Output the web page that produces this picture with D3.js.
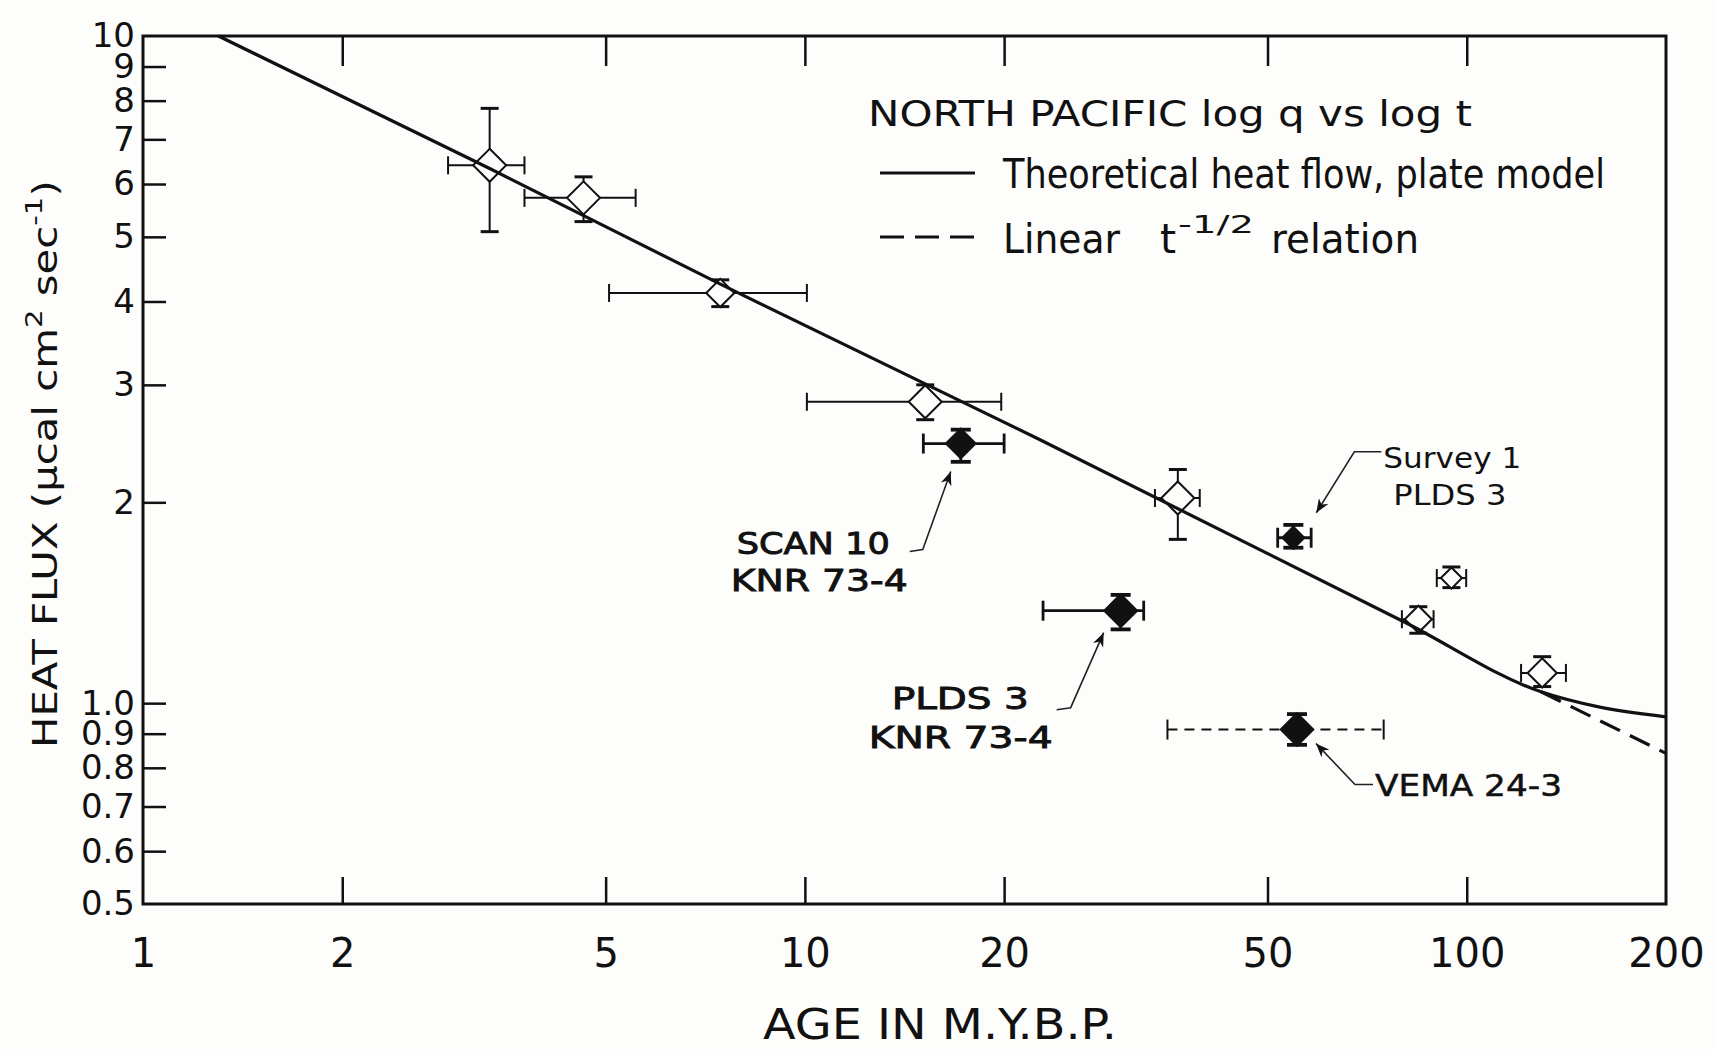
<!DOCTYPE html>
<html><head><meta charset="utf-8">
<script src="https://cdn.jsdelivr.net/npm/d3@7"></script>
<style>
body{margin:0;background:#fdfdfb}
svg{display:block}
text{font-family:"DejaVu Sans",sans-serif;fill:#111}
</style>
</head><body>
<svg id="chart" width="1714" height="1050"></svg>
<script>
// ---------- data ----------
const xTickValues = [1, 2, 5, 10, 20, 50, 100, 200];
const xTickLabels = ["1", "2", "5", "10", "20", "50", "100", "200"];
const yTickValues = [0.5, 0.6, 0.7, 0.8, 0.9, 1, 2, 3, 4, 5, 6, 7, 8, 9, 10];
const yTickLabels = ["0.5", "0.6", "0.7", "0.8", "0.9", "1.0", "2", "3", "4", "5", "6", "7", "8", "9", "10"];

// open diamonds
const openAge    = [3.34, 4.63, 7.45, 15.2, 36.6, 94.8, 84.5, 130];
const openFlux   = [6.40, 5.72, 4.12, 2.83, 2.03, 1.54, 1.336, 1.11];
const openAgeLo  = [2.89, 3.77, 5.06, 10.07, 33.8, 90.1, 79.8, 120.8];
const openAgeHi  = [3.77, 5.55, 10.07, 19.8, 39.5, 99.8, 89.1, 141.2];
const openFluxLo = [5.09, 5.27, 3.93, 2.66, 1.76, 1.49, 1.273, 1.059];
const openFluxHi = [7.79, 6.15, 4.31, 3.00, 2.24, 1.60, 1.395, 1.174];

// filled diamonds
const filledLabels = [["SCAN 10", "KNR 73-4"], ["PLDS 3", "KNR 73-4"], ["Survey 1", "PLDS 3"], ["VEMA 24-3"]];
const filledAge    = [17.2, 30.0, 54.7, 55.4];
const filledFlux   = [2.45, 1.376, 1.77, 0.913];
const filledAgeLo  = [15.1, 22.9, 51.8, 35.3];
const filledAgeHi  = [20.0, 32.5, 58.2, 74.9];
const filledFluxLo = [2.30, 1.29, 1.71, 0.866];
const filledFluxHi = [2.57, 1.453, 1.85, 0.963];

// theoretical heat flow, plate model
const plateAge  = [1.30, 3.34, 7.44, 22.7, 80.9, 129.5, 157.6, 200];
const plateFlux = [10, 6.33, 4.25, 2.48, 1.32, 1.04, 0.988, 0.954];
// linear t^-1/2 relation (shown beyond the divergence)
const linearAge  = [129.5, 200];
const linearFlux = [1.04, 0.841];

const titleText = "NORTH PACIFIC  log q vs log t";
const legendSolid = "Theoretical heat flow, plate model";

// ---------- layout ----------
const svg = d3.select("#chart");
const L = 143, R = 1666, T = 36, B = 904;
const x = d3.scaleLog().domain([1, 200]).range([L, R]);
const y = d3.scaleLog().domain([0.5, 10]).range([B, T]);
const ink = "#111";

svg.append("rect").attr("width", 1714).attr("height", 1050).attr("fill", "#fdfdfb");

// axes
const gx = svg.append("g").attr("transform", `translate(0,${B})`)
  .call(d3.axisBottom(x).tickValues(xTickValues)
    .tickFormat((d, i) => xTickLabels[i]).tickSizeInner(-27).tickSizeOuter(0).tickPadding(35));
gx.select(".domain").remove();
gx.selectAll(".tick line").attr("stroke", ink).attr("stroke-width", 2.5)
  .filter(d => d === 1 || d === 200).remove();
gx.selectAll(".tick text").attr("font-size", 40).attr("fill", ink).attr("font-family", "DejaVu Sans");

const gt = svg.append("g").attr("transform", `translate(0,${T})`)
  .call(d3.axisTop(x).tickValues(xTickValues.filter(v => v > 1 && v < 200))
    .tickFormat("").tickSizeInner(-30).tickSizeOuter(0));
gt.select(".domain").remove();
gt.selectAll(".tick line").attr("stroke", ink).attr("stroke-width", 2.5);

const gy = svg.append("g").attr("transform", `translate(${L},0)`)
  .call(d3.axisLeft(y).tickValues(yTickValues)
    .tickFormat((d, i) => yTickLabels[i]).tickSizeInner(-23).tickSizeOuter(0).tickPadding(8));
gy.select(".domain").remove();
gy.selectAll(".tick line").attr("stroke", ink).attr("stroke-width", 2.5)
  .filter(d => d === 0.5 || d === 10).remove();
gy.selectAll(".tick text").attr("font-size", 34).attr("fill", ink).attr("font-family", "DejaVu Sans");

// frame
svg.append("rect").attr("x", L).attr("y", T).attr("width", R - L).attr("height", B - T)
  .attr("fill", "none").attr("stroke", ink).attr("stroke-width", 3);

// axis titles
svg.append("text").attr("x", 763).attr("y", 1039).attr("font-size", 42)
  .attr("textLength", 354).attr("lengthAdjust", "spacingAndGlyphs").text("AGE IN M.Y.B.P.");

const yt = svg.append("text").attr("font-size", 33);
yt.append("tspan").text("HEAT FLUX (");
yt.append("tspan").text("μ");
yt.append("tspan").text("cal cm");
yt.append("tspan").attr("font-size", 23).attr("dy", -15).text("2");
yt.append("tspan").attr("dy", 15).text(" sec");
yt.append("tspan").attr("font-size", 23).attr("dy", -15).text("-1");
yt.append("tspan").attr("dy", 15).text(")");
const ytLen = yt.node().getComputedTextLength();
yt.attr("transform", `translate(57,748) rotate(-90) scale(${568 / ytLen},1)`);

// ---------- error bars ----------
function errorBars(g, cx, cy, xlo, xhi, ylo, yhi, sw, cap, dashX) {
  g.append("line").attr("x1", xlo).attr("x2", xhi).attr("y1", cy).attr("y2", cy)
    .attr("stroke", ink).attr("stroke-width", dashX ? 2 : sw)
    .attr("stroke-dasharray", dashX ? "10,7" : null);
  g.append("line").attr("x1", cx).attr("x2", cx).attr("y1", ylo).attr("y2", yhi)
    .attr("stroke", ink).attr("stroke-width", sw);
  [xlo, xhi].forEach(v => g.append("line").attr("x1", v).attr("x2", v)
    .attr("y1", cy - cap / 2).attr("y2", cy + cap / 2).attr("stroke", ink).attr("stroke-width", dashX ? 2 : sw));
  [ylo, yhi].forEach(v => g.append("line").attr("y1", v).attr("y2", v)
    .attr("x1", cx - cap / 2).attr("x2", cx + cap / 2).attr("stroke", ink).attr("stroke-width", sw + 1));
}
function diamond(cx, cy, s) {
  return `M${cx},${cy - s}L${cx + s},${cy}L${cx},${cy + s}L${cx - s},${cy}Z`;
}
function sizeFor(cx, cy, xlo, xhi, ylo, yhi) {
  return Math.min(16.5, Math.abs(cx - xlo), Math.abs(xhi - cx), Math.abs(cy - ylo) + 1, Math.abs(yhi - cy) + 1);
}

const gErr = svg.append("g");
const gSym = svg.append("g");
const openPts = openAge.map((a, i) => ({
  cx: x(a), cy: y(openFlux[i]), xlo: x(openAgeLo[i]), xhi: x(openAgeHi[i]),
  ylo: y(openFluxLo[i]), yhi: y(openFluxHi[i])
}));
openPts.forEach(p => {
  errorBars(gErr, p.cx, p.cy, p.xlo, p.xhi, p.ylo, p.yhi, 2, 18, false);
  gSym.append("path").attr("d", diamond(p.cx, p.cy, sizeFor(p.cx, p.cy, p.xlo, p.xhi, p.ylo, p.yhi)))
    .attr("fill", "#fdfdfb").attr("stroke", ink).attr("stroke-width", 2);
});

// ---------- curves ----------
const lineGen = d3.line().x(d => x(d[0])).y(d => y(d[1])).curve(d3.curveMonotoneX);
svg.append("path").datum(plateAge.map((a, i) => [a, plateFlux[i]]))
  .attr("d", lineGen).attr("fill", "none").attr("stroke", ink).attr("stroke-width", 3.2);
svg.append("path").datum(linearAge.map((a, i) => [a, linearFlux[i]]))
  .attr("d", d3.line().x(d => x(d[0])).y(d => y(d[1])))
  .attr("fill", "none").attr("stroke", ink).attr("stroke-width", 3.2).attr("stroke-dasharray", "22,11");

// ---------- filled points ----------
const filledPts = filledAge.map((a, i) => ({
  cx: x(a), cy: y(filledFlux[i]), xlo: x(filledAgeLo[i]), xhi: x(filledAgeHi[i]),
  ylo: y(filledFluxLo[i]), yhi: y(filledFluxHi[i])
}));
filledPts.forEach((p, i) => {
  errorBars(gErr, p.cx, p.cy, p.xlo, p.xhi, p.ylo, p.yhi, 2.8, 20, filledLabels[i][0] === "VEMA 24-3");
  gSym.append("path").attr("d", diamond(p.cx, p.cy, sizeFor(p.cx, p.cy, p.xlo, p.xhi, p.ylo, p.yhi)))
    .attr("fill", ink).attr("stroke", ink).attr("stroke-width", 2);
});

// ---------- annotations ----------
svg.append("defs").append("marker").attr("id", "arr").attr("viewBox", "0 0 10 8")
  .attr("refX", 10).attr("refY", 4).attr("markerWidth", 14).attr("markerHeight", 11)
  .attr("markerUnits", "userSpaceOnUse").attr("orient", "auto")
  .append("path").attr("d", "M0,0L10,4L0,8L3,4Z").attr("fill", ink);

// leader offsets (px) relative to each filled point, and label placement
const annLayout = [
  { lead: [[-51, 108], [-38, 106], [-10, 28]], text: [[-224, 110.5, 153], [-230, 147.5, 177]], fs: 30, bold: 0.9 },
  { lead: [[-64, 99], [-50, 97], [-17, 22]], text: [[-229, 98.3, 137], [-252, 137.3, 184]], fs: 30, bold: 0.9 },
  { lead: [[88, -86], [61, -86], [23, -25]], text: [[90, -69.7, 138], [100, -32.7, 113]], fs: 28, bold: 0 },
  { lead: [[76, 55], [58, 55], [19, 14]], text: [[78, 66.4, 187]], fs: 30, bold: 0.5 }
];
filledPts.forEach((p, i) => {
  const a = annLayout[i];
  svg.append("path")
    .attr("d", d3.line()(a.lead.map(o => [p.cx + o[0], p.cy + o[1]])))
    .attr("fill", "none").attr("stroke", "#222").attr("stroke-width", 1.6)
    .attr("marker-end", "url(#arr)");
  filledLabels[i].forEach((t, j) => {
    const o = a.text[j];
    svg.append("text").attr("x", p.cx + o[0]).attr("y", p.cy + o[1]).attr("font-size", a.fs)
      .attr("stroke", a.bold ? ink : null).attr("stroke-width", a.bold || null)
      .attr("textLength", o[2]).attr("lengthAdjust", "spacingAndGlyphs").text(t);
  });
});

// ---------- legend ----------
svg.append("text").attr("x", 868).attr("y", 126).attr("font-size", 35)
  .attr("textLength", 604).attr("lengthAdjust", "spacingAndGlyphs").text(titleText);
svg.append("line").attr("x1", 880).attr("x2", 975).attr("y1", 173).attr("y2", 173)
  .attr("stroke", ink).attr("stroke-width", 3.2);
svg.append("text").attr("x", 1003).attr("y", 188).attr("font-size", 41)
  .attr("textLength", 602).attr("lengthAdjust", "spacingAndGlyphs").text(legendSolid);
svg.append("line").attr("x1", 880).attr("x2", 975).attr("y1", 237).attr("y2", 237)
  .attr("stroke", ink).attr("stroke-width", 3.2).attr("stroke-dasharray", "24,11");
const lt = svg.append("text").attr("y", 253).attr("font-size", 41);
lt.append("tspan").attr("x", 1003).attr("textLength", 117).attr("lengthAdjust", "spacingAndGlyphs").text("Linear");
lt.append("tspan").attr("x", 1160).text("t");
lt.append("tspan").attr("x", 1178).attr("dy", -20).attr("font-size", 24)
  .attr("textLength", 76).attr("lengthAdjust", "spacingAndGlyphs").text("-1/2");
lt.append("tspan").attr("x", 1271).attr("dy", 20)
  .attr("textLength", 148).attr("lengthAdjust", "spacingAndGlyphs").text("relation");
</script>
</body></html>
